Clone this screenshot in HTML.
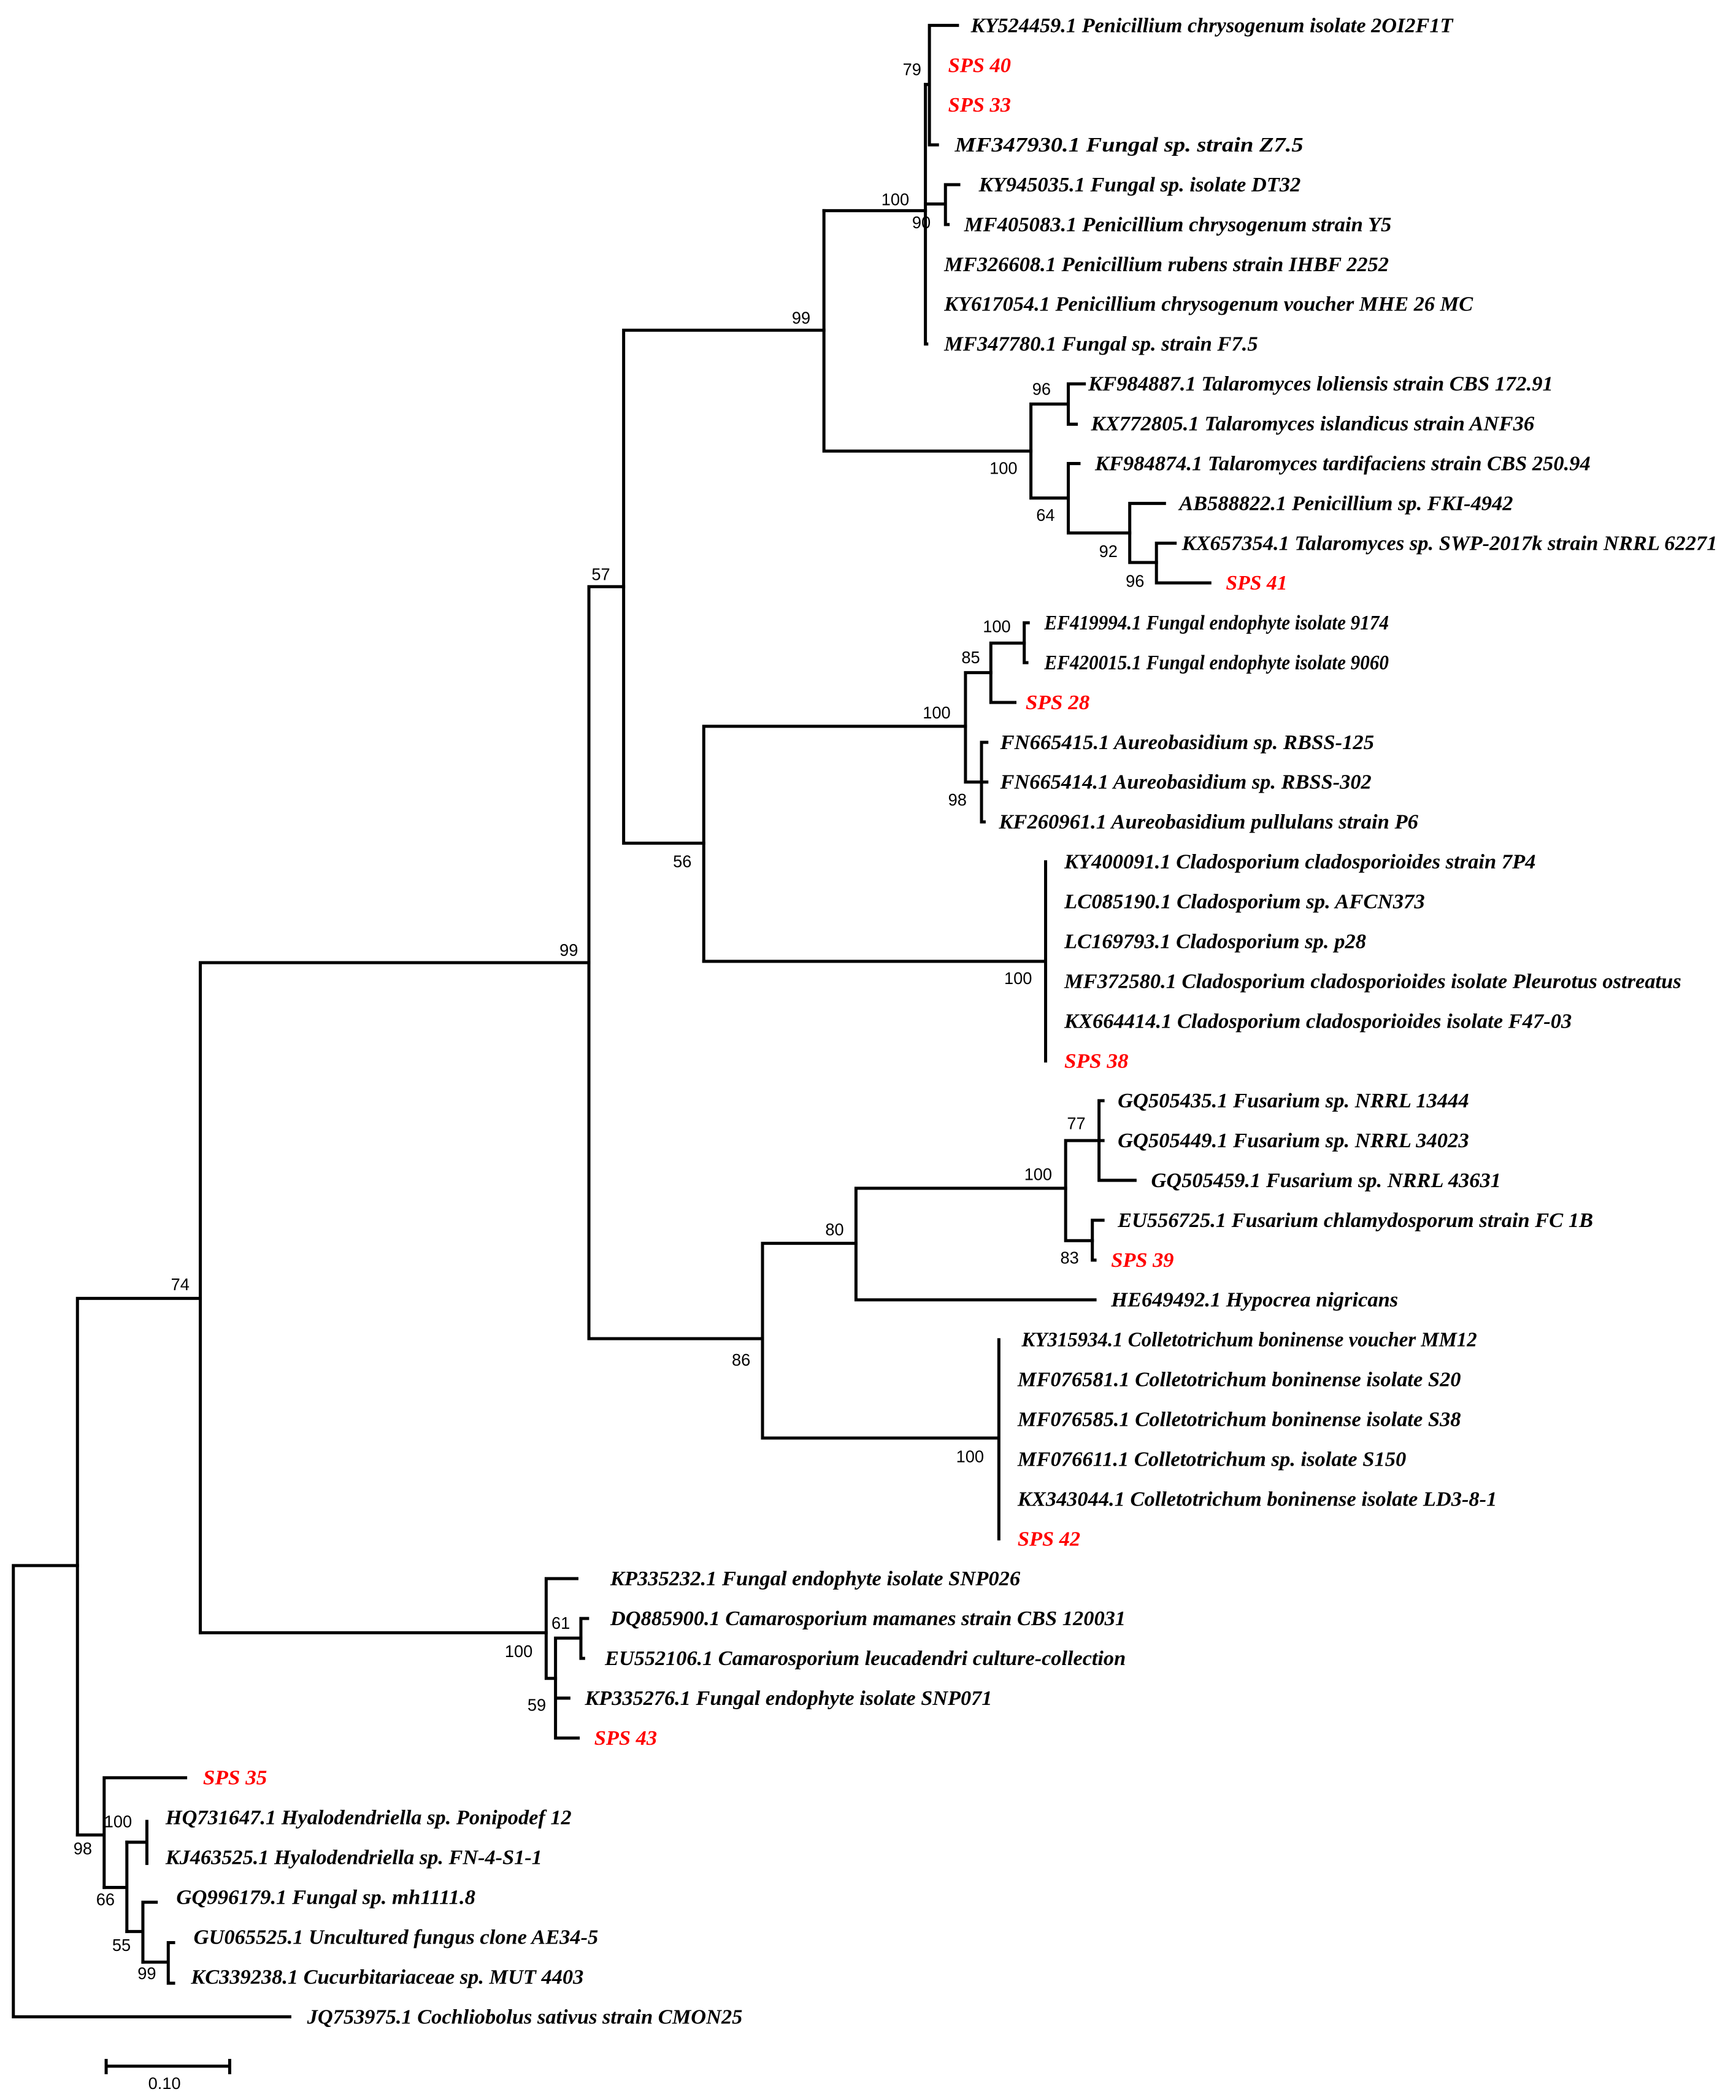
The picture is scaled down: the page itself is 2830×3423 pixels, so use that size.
<!DOCTYPE html>
<html><head><meta charset="utf-8"><style>
html,body{margin:0;padding:0;background:#fff;}
svg{display:block;}
.t{font-family:"Liberation Serif",serif;font-style:italic;font-weight:bold;font-size:15.5px;fill:#000;}
.r{fill:#f00;}
.b{font-family:"Liberation Sans",sans-serif;font-size:12.5px;fill:#000;}
</style></head><body>
<svg width="2830" height="3423" viewBox="0 0 1300 1572.3" preserveAspectRatio="none" xmlns="http://www.w3.org/2000/svg">
<g transform="translate(0,19) scale(1,1.00539) translate(0,-19)">
<g stroke="#000" stroke-width="2.3" fill="none" stroke-linecap="square">
<path d="M696 19V108M696 19H717M696 108H702M693 63H696"/>
<path d="M708 137.6V167.3M708 137.6H718M708 167.3H710M693 152H708"/>
<path d="M693 63V256.3M693 256.3H694"/>
<path d="M617 157H693"/>
<path d="M800 286V316M800 286H812M800 316H806"/>
<path d="M866 404.6V434.2M866 404.6H880M866 434.2H906"/>
<path d="M846 375V419M846 375H872M846 419H866"/>
<path d="M800 345.3V397M800 345.3H808M800 397H846"/>
<path d="M772 301V371M772 301H800M772 371H800"/>
<path d="M617 157V336M617 336H772"/>
<path d="M467 246H617M467 246V628M467 628H527"/>
<path d="M441 437H467M441 437V997"/>
<path d="M767 463.9V493.6M767 463.9H770M767 493.6H769"/>
<path d="M742 479V523.2M742 479H767M742 523.2H760"/>
<path d="M735 552.9V612.2M735 552.9H739M735 582.5H739M735 612.2H737"/>
<path d="M723 501V582.5M723 501H742M723 582.5H735"/>
<path d="M527 541V716M527 541H723"/>
<path d="M783 641.9V790.2M527 716H783"/>
<path d="M823 819.8V879.1M823 819.8H826M823 849.5H826M823 879.1H850"/>
<path d="M818 908.8V938.5M818 908.8H826M818 938.5H820"/>
<path d="M798 849.5V924M798 849.5H823M798 924H818"/>
<path d="M641 885V968.1M641 885H798M641 968.1H820"/>
<path d="M571 926V1071M571 926H641"/>
<path d="M748 997.8V1146.1M571 1071H748"/>
<path d="M441 997H571"/>
<path d="M150 717H441M150 717V1216"/>
<path d="M435 1205.4V1235.1M435 1205.4H440M435 1235.1H437"/>
<path d="M416 1220V1294.4M416 1220H435M416 1264.7H426M416 1294.4H433"/>
<path d="M409 1175.7V1250M409 1175.7H432M409 1250H416"/>
<path d="M150 1216H409"/>
<path d="M58 967H150M58 967V1366.6"/>
<path d="M78 1324V1405.7M78 1324H139M58 1366.6H78"/>
<path d="M95 1372V1438.5M78 1405.7H95"/>
<path d="M110 1356.5V1387.8M95 1372H110"/>
<path d="M107 1416.7V1461.3M95 1438.5H107M107 1416.7H117"/>
<path d="M126 1446.8V1477M107 1461.3H126M126 1446.8H130M126 1477H130"/>
<path d="M10 1166V1502M10 1166H58M10 1502H217"/>
</g>
<g class="t">
<text x="727" y="24" textLength="361" lengthAdjust="spacingAndGlyphs">KY524459.1 Penicillium chrysogenum isolate 2OI2F1T</text>
<text class="t r" x="710" y="53.7" textLength="47" lengthAdjust="spacingAndGlyphs">SPS 40</text>
<text class="t r" x="710" y="83.3" textLength="47" lengthAdjust="spacingAndGlyphs">SPS 33</text>
<text x="715" y="113" textLength="261" lengthAdjust="spacingAndGlyphs">MF347930.1 Fungal sp. strain Z7.5</text>
<text x="733" y="142.6" textLength="241" lengthAdjust="spacingAndGlyphs">KY945035.1 Fungal sp. isolate DT32</text>
<text x="722" y="172.3" textLength="320" lengthAdjust="spacingAndGlyphs">MF405083.1 Penicillium chrysogenum strain Y5</text>
<text x="707" y="202" textLength="333" lengthAdjust="spacingAndGlyphs">MF326608.1 Penicillium rubens strain IHBF 2252</text>
<text x="707" y="231.6" textLength="396" lengthAdjust="spacingAndGlyphs">KY617054.1 Penicillium chrysogenum voucher MHE 26 MC</text>
<text x="707" y="261.3" textLength="235" lengthAdjust="spacingAndGlyphs">MF347780.1 Fungal sp. strain F7.5</text>
<text x="815" y="290.9" textLength="348" lengthAdjust="spacingAndGlyphs">KF984887.1 Talaromyces loliensis strain CBS 172.91</text>
<text x="817" y="320.6" textLength="332" lengthAdjust="spacingAndGlyphs">KX772805.1 Talaromyces islandicus strain ANF36</text>
<text x="820" y="350.3" textLength="371" lengthAdjust="spacingAndGlyphs">KF984874.1 Talaromyces tardifaciens strain CBS 250.94</text>
<text x="883" y="379.9" textLength="250" lengthAdjust="spacingAndGlyphs">AB588822.1 Penicillium sp. FKI-4942</text>
<text x="885" y="409.6" textLength="401" lengthAdjust="spacingAndGlyphs">KX657354.1 Talaromyces sp. SWP-2017k strain NRRL 62271</text>
<text class="t r" x="918" y="439.2" textLength="46" lengthAdjust="spacingAndGlyphs">SPS 41</text>
<text x="782" y="468.9" textLength="258" lengthAdjust="spacingAndGlyphs">EF419994.1 Fungal endophyte isolate 9174</text>
<text x="782" y="498.6" textLength="258" lengthAdjust="spacingAndGlyphs">EF420015.1 Fungal endophyte isolate 9060</text>
<text class="t r" x="768" y="528.2" textLength="48" lengthAdjust="spacingAndGlyphs">SPS 28</text>
<text x="749" y="557.9" textLength="280" lengthAdjust="spacingAndGlyphs">FN665415.1 Aureobasidium sp. RBSS-125</text>
<text x="749" y="587.5" textLength="278" lengthAdjust="spacingAndGlyphs">FN665414.1 Aureobasidium sp. RBSS-302</text>
<text x="748" y="617.2" textLength="314" lengthAdjust="spacingAndGlyphs">KF260961.1 Aureobasidium pullulans strain P6</text>
<text x="797" y="646.9" textLength="353" lengthAdjust="spacingAndGlyphs">KY400091.1 Cladosporium cladosporioides strain 7P4</text>
<text x="797" y="676.5" textLength="270" lengthAdjust="spacingAndGlyphs">LC085190.1 Cladosporium sp. AFCN373</text>
<text x="797" y="706.2" textLength="226" lengthAdjust="spacingAndGlyphs">LC169793.1 Cladosporium sp. p28</text>
<text x="797" y="735.8" textLength="462" lengthAdjust="spacingAndGlyphs">MF372580.1 Cladosporium cladosporioides isolate Pleurotus ostreatus</text>
<text x="797" y="765.5" textLength="380" lengthAdjust="spacingAndGlyphs">KX664414.1 Cladosporium cladosporioides isolate F47-03</text>
<text class="t r" x="797" y="795.2" textLength="48" lengthAdjust="spacingAndGlyphs">SPS 38</text>
<text x="837" y="824.8" textLength="263" lengthAdjust="spacingAndGlyphs">GQ505435.1 Fusarium sp. NRRL 13444</text>
<text x="837" y="854.5" textLength="263" lengthAdjust="spacingAndGlyphs">GQ505449.1 Fusarium sp. NRRL 34023</text>
<text x="862" y="884.1" textLength="262" lengthAdjust="spacingAndGlyphs">GQ505459.1 Fusarium sp. NRRL 43631</text>
<text x="837" y="913.8" textLength="356" lengthAdjust="spacingAndGlyphs">EU556725.1 Fusarium chlamydosporum strain FC 1B</text>
<text class="t r" x="832" y="943.5" textLength="47" lengthAdjust="spacingAndGlyphs">SPS 39</text>
<text x="832" y="973.1" textLength="215" lengthAdjust="spacingAndGlyphs">HE649492.1 Hypocrea nigricans</text>
<text x="765" y="1002.8" textLength="341" lengthAdjust="spacingAndGlyphs">KY315934.1 Colletotrichum boninense voucher MM12</text>
<text x="762" y="1032.4" textLength="332" lengthAdjust="spacingAndGlyphs">MF076581.1 Colletotrichum boninense isolate S20</text>
<text x="762" y="1062.1" textLength="332" lengthAdjust="spacingAndGlyphs">MF076585.1 Colletotrichum boninense isolate S38</text>
<text x="762" y="1091.8" textLength="291" lengthAdjust="spacingAndGlyphs">MF076611.1 Colletotrichum sp. isolate S150</text>
<text x="762" y="1121.4" textLength="359" lengthAdjust="spacingAndGlyphs">KX343044.1 Colletotrichum boninense isolate LD3-8-1</text>
<text class="t r" x="762" y="1151.1" textLength="47" lengthAdjust="spacingAndGlyphs">SPS 42</text>
<text x="457" y="1180.7" textLength="307" lengthAdjust="spacingAndGlyphs">KP335232.1 Fungal endophyte isolate SNP026</text>
<text x="457" y="1210.4" textLength="386" lengthAdjust="spacingAndGlyphs">DQ885900.1 Camarosporium mamanes strain CBS 120031</text>
<text x="453" y="1240.1" textLength="390" lengthAdjust="spacingAndGlyphs">EU552106.1 Camarosporium leucadendri culture-collection</text>
<text x="438" y="1269.7" textLength="305" lengthAdjust="spacingAndGlyphs">KP335276.1 Fungal endophyte isolate SNP071</text>
<text class="t r" x="445" y="1299.4" textLength="47" lengthAdjust="spacingAndGlyphs">SPS 43</text>
<text class="t r" x="152" y="1329" textLength="48" lengthAdjust="spacingAndGlyphs">SPS 35</text>
<text x="124" y="1358.7" textLength="304" lengthAdjust="spacingAndGlyphs">HQ731647.1 Hyalodendriella sp. Ponipodef 12</text>
<text x="124" y="1388.4" textLength="282" lengthAdjust="spacingAndGlyphs">KJ463525.1 Hyalodendriella sp. FN-4-S1-1</text>
<text x="132" y="1418" textLength="224" lengthAdjust="spacingAndGlyphs">GQ996179.1 Fungal sp. mh1111.8</text>
<text x="145" y="1447.7" textLength="303" lengthAdjust="spacingAndGlyphs">GU065525.1 Uncultured fungus clone AE34-5</text>
<text x="143" y="1477.3" textLength="294" lengthAdjust="spacingAndGlyphs">KC339238.1 Cucurbitariaceae sp. MUT 4403</text>
<text x="230" y="1507" textLength="326" lengthAdjust="spacingAndGlyphs">JQ753975.1 Cochliobolus sativus strain CMON25</text>
</g>
<g class="b">
<text x="676" y="56">79</text>
<text x="660" y="153">100</text>
<text x="683" y="170">90</text>
<text x="593" y="241">99</text>
<text x="773" y="294">96</text>
<text x="741" y="353">100</text>
<text x="776" y="388">64</text>
<text x="823" y="415">92</text>
<text x="843" y="437">96</text>
<text x="443" y="432">57</text>
<text x="736" y="471">100</text>
<text x="720" y="494">85</text>
<text x="691" y="535">100</text>
<text x="710" y="600">98</text>
<text x="504" y="646">56</text>
<text x="419" y="712">99</text>
<text x="752" y="733">100</text>
<text x="799" y="841">77</text>
<text x="767" y="879">100</text>
<text x="618" y="920">80</text>
<text x="794" y="941">83</text>
<text x="548" y="1017">86</text>
<text x="128" y="961">74</text>
<text x="716" y="1089">100</text>
<text x="413" y="1213">61</text>
<text x="378" y="1234">100</text>
<text x="395" y="1274">59</text>
<text x="78" y="1361">100</text>
<text x="55" y="1381">98</text>
<text x="72" y="1419">66</text>
<text x="84" y="1453">55</text>
<text x="103" y="1474">99</text>
</g>
</g>
<g stroke="#000" stroke-width="2.3" fill="none">
<path d="M79.5 1547H172M79.5 1541.5V1553M172 1541.5V1553"/>
</g>
<text class="b" x="111" y="1564" font-size="13">0.10</text>
</svg>
</body></html>
